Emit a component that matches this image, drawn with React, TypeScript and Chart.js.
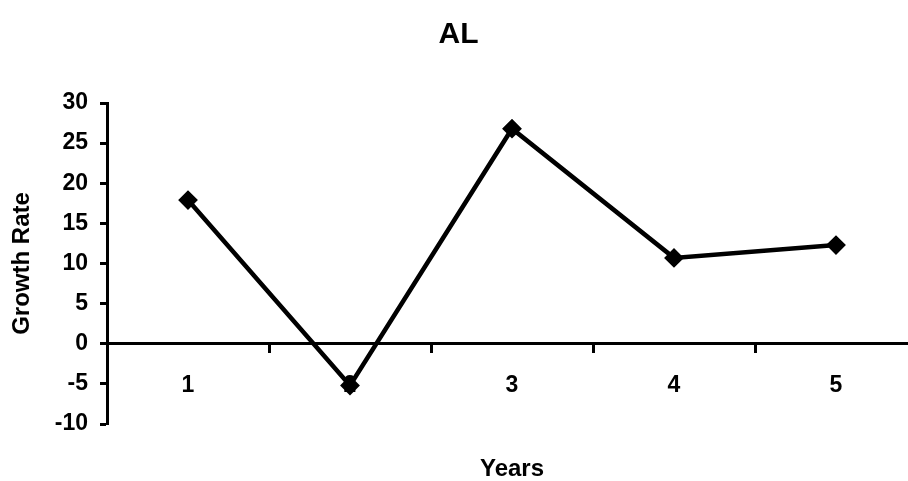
import { useEffect, useRef } from "react";
import { Chart, registerables } from "chart.js";

Chart.register(...registerables);

const categories = ["1", "2", "3", "4", "5"];
const growthRate = [17.9, -5.2, 26.8, 10.7, 12.3];
const yMin = -10;
const yMax = 30;
const yStep = 5;
const chartTitle = "AL";
const xTitle = "Years";
const yTitle = "Growth Rate";

const FAMILY = "'Liberation Sans', Arial, sans-serif";

export default function App() {
  const ref = useRef<HTMLCanvasElement>(null);
  useEffect(() => {
    const bold = (size: number, lineHeight = 1.2) => ({ family: FAMILY, size, weight: "bold" as const, lineHeight });
    const chart = new Chart(ref.current!, {
      type: "line",
      data: {
        labels: categories,
        datasets: [
          {
            data: growthRate,
            borderColor: "#000",
            borderWidth: 4.5,
            pointStyle: "rectRot",
            pointRadius: 8.5,
            pointBackgroundColor: "#000",
            pointBorderColor: "#000",
            pointBorderWidth: 2,
            tension: 0,
            fill: false,
          },
        ],
      },
      options: {
        animation: false,
        responsive: false,
        layout: { padding: { left: 0, right: 13, top: 0, bottom: 0 } },
        plugins: {
          legend: { display: false },
          tooltip: { enabled: false },
          title: {
            display: true,
            text: chartTitle,
            color: "#000",
            font: bold(30, 1),
            padding: { top: 20, bottom: 53 },
          },
        },
        scales: {
          x: {
            type: "category",
            position: { y: 0 } as any,
            offset: true,
            grid: {
              offset: true,
              drawOnChartArea: false,
              drawTicks: true,
              tickLength: 8,
              tickWidth: 3,
              tickColor: "#000",
            },
            border: { display: true, color: "#000", width: 3 },
            ticks: { color: "#000", font: bold(23), padding: 20, autoSkip: false, maxRotation: 0 },
            afterFit: (s: any) => {
              s.height = 0;
            },
          },
          x2: {
            type: "category",
            position: "bottom",
            grid: { display: false },
            border: { display: false },
            ticks: { display: false },
            title: { display: true, text: xTitle, color: "#000", font: bold(24, 1), padding: { top: 0, bottom: 0 } },
            afterFit: (s: any) => {
              s.height = 57;
            },
          },
          y: {
            position: "left",
            min: yMin,
            max: yMax,
            ticks: { stepSize: yStep, color: "#000", font: bold(23), padding: 12 },
            grid: { drawOnChartArea: false, drawTicks: true, tickLength: 7, tickWidth: 3, tickColor: "#000" },
            border: { display: true, color: "#000", width: 3 },
            title: { display: true, text: yTitle, color: "#000", font: bold(24), padding: { top: 8, bottom: 0 } },
            afterFit: (s: any) => {
              s.width = 107;
            },
          },
        },
      },
    });
    return () => chart.destroy();
  }, []);
  return (
    <div style={{ position: "fixed", left: 0, top: 0, width: 908, height: 481, overflow: "hidden", background: "#fff" }}>
      <canvas ref={ref} width={930} height={481} />
    </div>
  );
}
